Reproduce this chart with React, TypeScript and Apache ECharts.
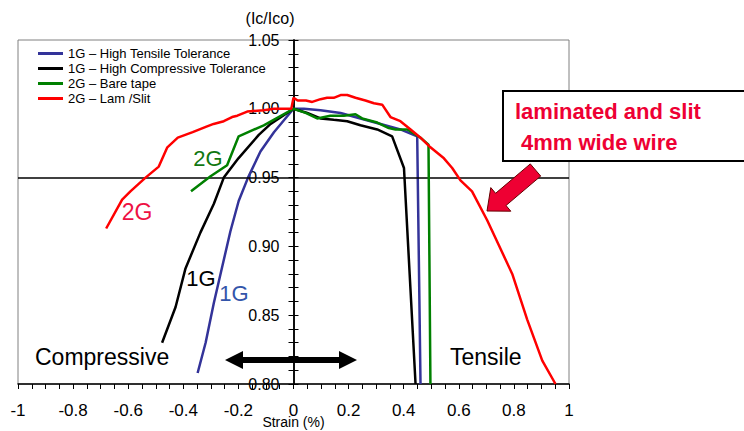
import React, { useEffect, useRef } from "react";
import * as echarts from "echarts";

// Strain (%) vs normalized critical current (Ic/Ico)
const hiTensile1G: [number, number][] = [
  [-0.348, 0.808], [-0.319, 0.83], [-0.289, 0.859], [-0.259, 0.885], [-0.229, 0.911],
  [-0.199, 0.933], [-0.165, 0.95], [-0.12, 0.969], [-0.071, 0.983], [0, 1.0],
  [0.038, 1.0], [0.098, 0.999], [0.171, 0.997], [0.243, 0.993], [0.316, 0.989],
  [0.388, 0.985], [0.449, 0.98], [0.461, 0.8],
];
const hiCompressive1G: [number, number][] = [
  [-0.477, 0.83], [-0.428, 0.856], [-0.392, 0.884], [-0.338, 0.91], [-0.289, 0.931],
  [-0.253, 0.95], [-0.2, 0.964], [-0.126, 0.981], [-0.083, 0.989], [0, 1.0],
  [0.05, 0.997], [0.098, 0.993], [0.146, 0.992], [0.195, 0.991], [0.243, 0.988],
  [0.304, 0.985], [0.358, 0.98], [0.401, 0.957], [0.443, 0.8],
];
const bareTape2G: [number, number][] = [
  [-0.372, 0.94], [-0.301, 0.951], [-0.241, 0.959], [-0.199, 0.98], [-0.108, 0.988],
  [0, 1.0], [0.044, 0.997], [0.086, 0.993], [0.134, 0.995], [0.183, 0.995],
  [0.225, 0.996], [0.249, 0.993], [0.304, 0.99], [0.346, 0.986], [0.37, 0.985],
  [0.413, 0.985], [0.461, 0.979], [0.49, 0.974], [0.497, 0.8],
];
const lamSlit2G: [number, number][] = [
  [-0.68, 0.913], [-0.622, 0.934], [-0.592, 0.94], [-0.537, 0.95], [-0.489, 0.958],
  [-0.458, 0.972], [-0.42, 0.979], [-0.366, 0.983], [-0.316, 0.987], [-0.29, 0.989],
  [-0.253, 0.991], [-0.223, 0.994], [-0.204, 0.995], [-0.168, 0.998], [-0.108, 0.999],
  [-0.071, 1.0], [-0.008, 1.0], [0.0, 1.008], [0.015, 1.006], [0.045, 1.006],
  [0.068, 1.005], [0.098, 1.007], [0.122, 1.008], [0.146, 1.008], [0.171, 1.01],
  [0.195, 1.01], [0.225, 1.008], [0.261, 1.006], [0.292, 1.004], [0.322, 1.003],
  [0.352, 0.994], [0.388, 0.991], [0.425, 0.985], [0.461, 0.979], [0.497, 0.972],
  [0.546, 0.964], [0.576, 0.957], [0.606, 0.948], [0.648, 0.94], [0.703, 0.919],
  [0.745, 0.901], [0.794, 0.88], [0.848, 0.847], [0.903, 0.817], [0.951, 0.8],
];
const seriesNames = [
  "1G – High Tensile Tolerance",
  "1G – High Compressive Tolerance",
  "2G – Bare tape",
  "2G – Lam /Slit",
];
const seriesColors = ["#333399", "#000000", "#008000", "#ff0000"];
const referenceLevel = 0.95;

const FONT = "'Liberation Sans', Arial, sans-serif";

const GRID_LEFT = 18;
const GRID_RIGHT = 175;
const CHART_W = 744;
// the y axis crosses the x axis at strain 0 (centre of the symmetric -1..1 range)
const Y_AXIS_OFFSET = -(CHART_W - GRID_LEFT - GRID_RIGHT) / 2;

const isMultiple = (v: number, step: number) =>
  Math.abs(v / step - Math.round(v / step)) < 1e-6;

export default function App() {
  const ref = useRef<HTMLDivElement>(null);
  useEffect(() => {
    if (!ref.current) return;
    const chart = echarts.init(ref.current, null, { renderer: "svg" });
    const datasets = [hiTensile1G, hiCompressive1G, bareTape2G, lamSlit2G];
    const yCommon = {
      type: "value",
      min: 0.8,
      max: 1.05,
      interval: 0.01,
      offset: Y_AXIS_OFFSET,
      splitLine: { show: false },
      axisLine: { show: true, onZero: false, lineStyle: { color: "#000", width: 1.5 } },
      axisTick: { show: true, length: 5, lineStyle: { color: "#000" } },
    };
    chart.setOption({
      animation: false,
      grid: {
        left: GRID_LEFT,
        right: GRID_RIGHT,
        top: 40,
        bottom: 47,
        containLabel: false,
        outerBoundsMode: "none",
        show: true,
        borderColor: "#808080",
        borderWidth: 1,
        backgroundColor: "#fff",
      },
      legend: {
        data: seriesNames,
        orient: "vertical",
        left: 33,
        top: 42,
        icon: "rect",
        itemWidth: 25,
        itemHeight: 3,
        itemGap: 2,
        textStyle: { fontFamily: FONT, fontSize: 13, lineHeight: 13, color: "#000" },
      },
      xAxis: {
        type: "value",
        min: -1,
        max: 1,
        interval: 0.05,
        splitLine: { show: false },
        axisLine: { onZero: false, lineStyle: { color: "#000", width: 1.5 } },
        axisTick: { show: true, length: 5, lineStyle: { color: "#000" } },
        axisLabel: {
          fontFamily: FONT,
          fontSize: 17,
          color: "#000",
          margin: 18,
          formatter: (v: number) =>
            isMultiple(v, 0.2) ? String(Math.round(v * 10) / 10) : "",
        },
        name: "Strain (%)",
        nameLocation: "middle",
        nameGap: 31,
        nameMoveOverlap: false,
        nameTextStyle: { fontFamily: FONT, fontSize: 14, color: "#000" },
      },
      yAxis: [
        {
          ...yCommon,
          position: "left",
          axisLabel: {
            fontFamily: FONT,
            fontSize: 16,
            color: "#000",
            margin: 14,
            formatter: (v: number) => (isMultiple(v, 0.05) ? v.toFixed(2) : ""),
          },
        },
        {
          ...yCommon,
          position: "right",
          axisLabel: { show: false },
        },
      ],
      series: datasets.map((d, i) => ({
        name: seriesNames[i],
        type: "line",
        data: d,
        symbol: "none",
        color: seriesColors[i],
        lineStyle: { width: 2.5, color: seriesColors[i] },
        z: 3 + i,
        markLine:
          i === 0
            ? {
                silent: true,
                symbol: "none",
                label: { show: false },
                lineStyle: { color: "#000", width: 1.5, type: "solid" },
                data: [{ yAxis: referenceLevel }],
              }
            : undefined,
      })),
      graphic: [
        {
          type: "text",
          x: 270,
          y: 18,
          style: {
            text: "(Ic/Ico)",
            font: `16px ${FONT}`,
            fill: "#000",
            textAlign: "center",
            textVerticalAlign: "middle",
          },
        },
        {
          type: "text",
          x: 137,
          y: 212,
          style: { text: "2G", font: `23px ${FONT}`, fill: "#ee1144", textAlign: "center", textVerticalAlign: "middle" },
        },
        {
          type: "text",
          x: 208,
          y: 158,
          style: { text: "2G", font: `22px ${FONT}`, fill: "#117711", textAlign: "center", textVerticalAlign: "middle" },
        },
        {
          type: "text",
          x: 201,
          y: 278,
          style: { text: "1G", font: `22px ${FONT}`, fill: "#000", textAlign: "center", textVerticalAlign: "middle" },
        },
        {
          type: "text",
          x: 234,
          y: 293,
          style: { text: "1G", font: `22px ${FONT}`, fill: "#3355aa", textAlign: "center", textVerticalAlign: "middle" },
        },
        {
          type: "text",
          x: 35,
          y: 357,
          style: { text: "Compressive", font: `23px ${FONT}`, fill: "#000", textAlign: "left", textVerticalAlign: "middle" },
        },
        {
          type: "text",
          x: 450,
          y: 357,
          style: { text: "Tensile", font: `23px ${FONT}`, fill: "#000", textAlign: "left", textVerticalAlign: "middle" },
        },
        {
          type: "polygon",
          shape: {
            points: [
              [225, 360], [243, 351], [243, 357], [339, 357], [339, 351],
              [357, 360], [339, 369], [339, 363], [243, 363], [243, 369],
            ],
          },
          style: { fill: "#000" },
          z: 10,
        },
        {
          type: "rect",
          shape: { x: 503, y: 91, width: 245, height: 70 },
          style: { fill: "#fff", stroke: "#000", lineWidth: 2 },
          z: 10,
        },
        {
          type: "text",
          x: 515,
          y: 111,
          style: { text: "laminated and slit", font: `bold 22px ${FONT}`, fill: "#ee0033", textAlign: "left", textVerticalAlign: "middle" },
          z: 11,
        },
        {
          type: "text",
          x: 521,
          y: 142,
          style: { text: "4mm wide wire", font: `bold 22px ${FONT}`, fill: "#ee0033", textAlign: "left", textVerticalAlign: "middle" },
          z: 11,
        },
        {
          type: "polygon",
          shape: {
            points: [
              [487, 211], [510.8, 211.2], [506, 205.5], [540.7, 176.1],
              [530.3, 163.9], [495.6, 193.3], [490.8, 187.6],
            ],
          },
          style: { fill: "#ee0033", stroke: "#660000", lineWidth: 1 },
          z: 10,
        },
      ],
    });
    return () => chart.dispose();
  }, []);
  return <div ref={ref} style={{ width: 744, height: 431, position: "absolute", left: 0, top: 0 }} />;
}
